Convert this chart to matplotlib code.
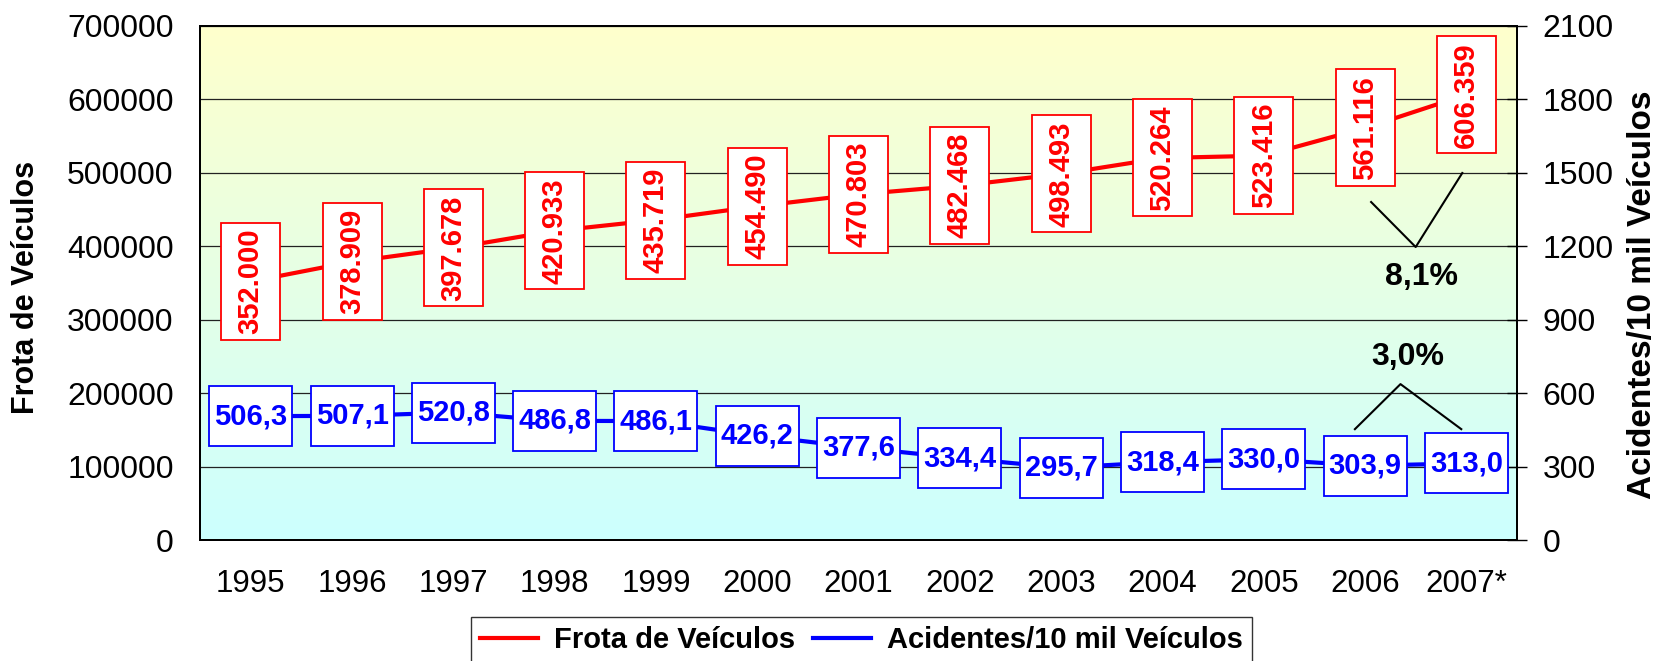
import numpy as np
import matplotlib.pyplot as plt
from matplotlib.patches import Rectangle
from matplotlib.transforms import ScaledTranslation
from matplotlib.lines import Line2D

plt.rcParams['font.family'] = ['Liberation Sans', 'DejaVu Sans']

anos = ['1995', '1996', '1997', '1998', '1999', '2000', '2001',
        '2002', '2003', '2004', '2005', '2006', '2007*']
frota = [352000, 378909, 397678, 420933, 435719, 454490, 470803,
         482468, 498493, 520264, 523416, 561116, 606359]
acidentes = [506.3, 507.1, 520.8, 486.8, 486.1, 426.2, 377.6,
             334.4, 295.7, 318.4, 330.0, 303.9, 313.0]
variacao_frota = '8,1%'
variacao_acid = '3,0%'

frota_txt = [f"{v:,}".replace(',', '.') for v in frota]
acid_txt = [f"{v:.1f}".replace('.', ',') for v in acidentes]

VERM = '#FF0000'
AZUL = '#0000FF'

fig = plt.figure(figsize=(16.63, 6.61), dpi=100)
ax = fig.add_axes([0.1203, 0.183, 0.7919, 0.7777])
ax2 = ax.twinx()

x = np.arange(len(anos))

# fundo em degrade amarelo -> ciano
t = np.linspace(0, 1, 256)[:, None, None]
topo = np.array([1.0, 1.0, 0.8])
base = np.array([0.8, 1.0, 1.0])
img = topo * (1 - t) + base * t
ax.imshow(img, extent=[0, 1, 0, 1], transform=ax.transAxes, aspect='auto', zorder=0)

ax.set_axisbelow(True)
ax.yaxis.grid(True, color='#222222', lw=0.9, zorder=1)

ax.plot(x, frota, color=VERM, lw=3, zorder=2)
ax2.plot(x, acidentes, color=AZUL, lw=3, zorder=2)

# caixas dos rotulos
for i in range(len(x)):
    tr = fig.dpi_scale_trans + ScaledTranslation(x[i], frota[i], ax.transData)
    ax.add_patch(Rectangle((-0.295, -0.585), 0.59, 1.17, transform=tr,
                           facecolor='white', edgecolor=VERM, lw=1.3, zorder=3))
    ax.text(x[i], frota[i], frota_txt[i], rotation=90, ha='center', va='center',
            rotation_mode='anchor', color=VERM, fontsize=21, fontweight='bold', zorder=4)

    tr2 = fig.dpi_scale_trans + ScaledTranslation(x[i], acidentes[i], ax2.transData)
    ax2.add_patch(Rectangle((-0.415, -0.30), 0.83, 0.60, transform=tr2,
                            facecolor='white', edgecolor=AZUL, lw=1.3, zorder=3))
    ax2.text(x[i], acidentes[i], acid_txt[i], ha='center', va='center',
             color=AZUL, fontsize=21, fontweight='bold', zorder=4)

# anotacoes de variacao
ax.plot([11.06, 11.5, 11.96], [460300, 399000, 499800], color='black', lw=1.5, zorder=2)
ax.text(11.56, 358200, variacao_frota, ha='center', va='center', fontsize=23,
        fontweight='bold', zorder=4)
ax2.plot([10.90, 11.35, 11.95], [453, 637, 453], color='black', lw=1.5, zorder=2)
ax2.text(11.42, 748, variacao_acid, ha='center', va='center', fontsize=23,
         fontweight='bold', zorder=4)

ax.set_xlim(-0.5, len(x) - 0.5)
ax.set_ylim(0, 700000)
ax2.set_ylim(0, 2100)
ax.set_xticks(x)
ax.set_xticklabels(anos)
ax.set_yticks(np.arange(0, 700001, 100000))
ax2.set_yticks(np.arange(0, 2101, 300))

ax.tick_params(axis='y', length=0, pad=19, labelsize=23)
ax.tick_params(axis='x', length=0, pad=21, labelsize=22.5)
ax2.tick_params(axis='y', direction='inout', length=15, width=1, pad=11, labelsize=23)

for a in (ax, ax2):
    for s in a.spines.values():
        s.set_linewidth(1.4)
        s.set_color('black')

ax.set_ylabel('Frota de Veículos', fontsize=22, fontweight='bold')
ax.yaxis.set_label_coords(-0.1207, 0.491)
ax2.set_ylabel('Acidentes/10 mil Veículos', fontsize=24, fontweight='bold')
ax2.yaxis.set_label_coords(1.0835, 0.478)

handles = [Line2D([], [], color=VERM, lw=3), Line2D([], [], color=AZUL, lw=3)]
leg = ax2.legend(handles, ['Frota de Veículos', 'Acidentes/10 mil Veículos'],
                 loc='upper center', bbox_to_anchor=(0.518, 0.0666),
                 bbox_transform=fig.transFigure, ncol=2, frameon=True, fancybox=False,
                 edgecolor='black', handlelength=2.0, handletextpad=0.55,
                 columnspacing=0.6, borderpad=0.3, borderaxespad=0,
                 prop={'size': 21, 'weight': 'bold'})
leg.get_frame().set_linewidth(1.0)

fig.savefig('out.png', dpi=100)
